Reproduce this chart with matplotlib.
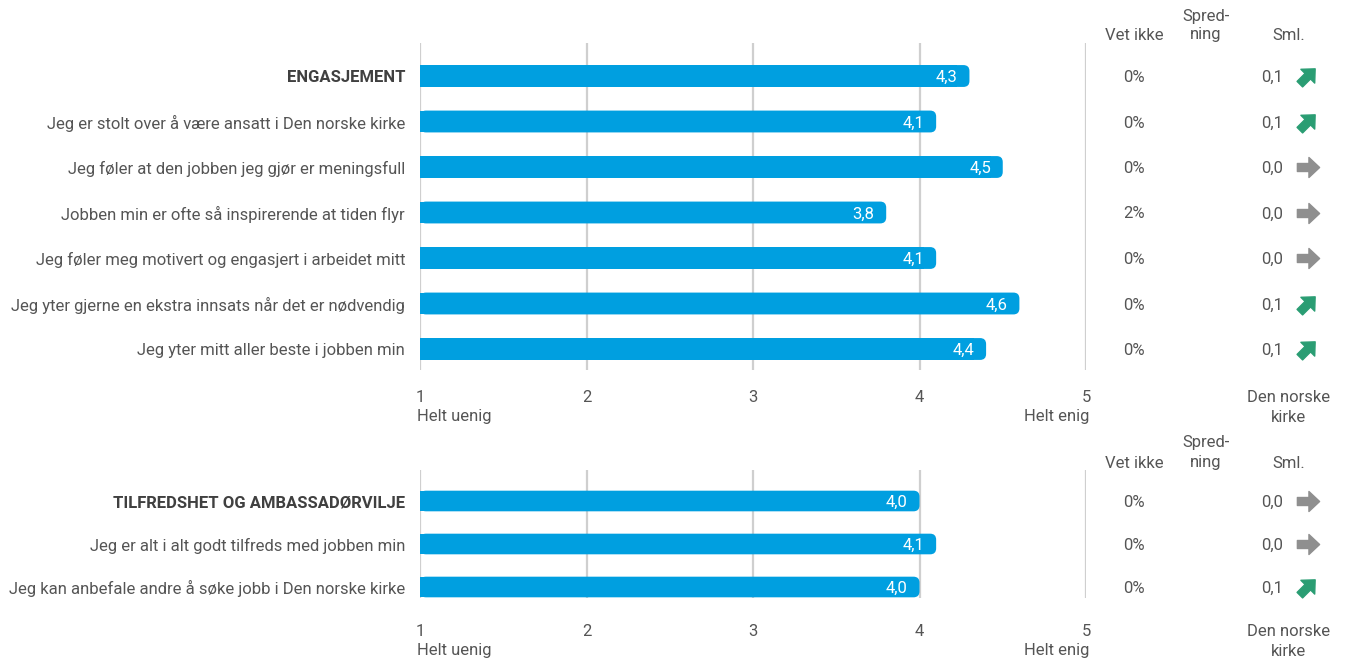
import matplotlib.pyplot as plt
import matplotlib.transforms as mtransforms
from matplotlib.patches import FancyBboxPatch
from matplotlib.path import Path

plt.rcParams['font.family'] = ['Roboto', 'DejaVu Sans']

# --- DATA ---
top_labels = [
    "ENGASJEMENT",
    "Jeg er stolt over å være ansatt i Den norske kirke",
    "Jeg føler at den jobben jeg gjør er meningsfull",
    "Jobben min er ofte så inspirerende at tiden flyr",
    "Jeg føler meg motivert og engasjert i arbeidet mitt",
    "Jeg yter gjerne en ekstra innsats når det er nødvendig",
    "Jeg yter mitt aller beste i jobben min",
]
top_values = [4.3, 4.1, 4.5, 3.8, 4.1, 4.6, 4.4]
top_vet_ikke = [0, 0, 0, 2, 0, 0, 0]
top_sml = [0.1, 0.1, 0.0, 0.0, 0.0, 0.1, 0.1]

bottom_labels = [
    "TILFREDSHET OG AMBASSADØRVILJE",
    "Jeg er alt i alt godt tilfreds med jobben min",
    "Jeg kan anbefale andre å søke jobb i Den norske kirke",
]
bottom_values = [4.0, 4.1, 4.0]
bottom_vet_ikke = [0, 0, 0]
bottom_sml = [0.0, 0.0, 0.1]

ticks = [1, 2, 3, 4, 5]

# --- STYLE ---
W, H = 1348, 663
BAR_COLOR = '#009fe0'
GRID_COLOR = '#cfcfcf'
TEXT_COLOR = '#555555'
HEAD_COLOR = '#404040'
UP_COLOR = '#2a9d73'
FLAT_COLOR = '#8f8f8f'
FS = 12

fig = plt.figure(figsize=(W / 100, H / 100), dpi=100)


def fx(px):
    return px / W


def fy(py):
    return 1 - py / H


# arrow marker shapes
right_arrow = Path([(-0.5, -0.18), (0.02, -0.18), (0.02, -0.45), (0.5, 0.0),
                    (0.02, 0.45), (0.02, 0.18), (-0.5, 0.18), (-0.5, -0.18)],
                   closed=True)
up_arrow = mtransforms.Affine2D().rotate_deg(45).transform_path(right_arrow)


def fmt(v):
    return f"{v:.1f}".replace('.', ',')


def draw_panel(top_px, bottom_px, first_row_px, row_step, labels, values,
               vet_ikke, sml):
    n = len(labels)
    ax = fig.add_axes([fx(420), fy(bottom_px), fx(1086) - fx(420),
                       (bottom_px - top_px) / H])
    y_top = -(first_row_px - top_px) / row_step
    y_bot = (n - 1) + (bottom_px - (first_row_px + (n - 1) * row_step)) / row_step
    ax.set_xlim(1, 5)
    ax.set_ylim(y_bot, y_top)
    ax.axis('off')

    for t in ticks:
        ax.axvline(t, color=GRID_COLOR, lw=1.6, zorder=0)

    px_per_x = 666 / 4
    aspect = px_per_x / row_step
    r = 6 / px_per_x
    bh = 0.48
    for i, v in enumerate(values):
        ax.barh(i, v - 1 - 2 * r, left=1, height=bh, color=BAR_COLOR,
                zorder=2, lw=0)
        ax.add_patch(FancyBboxPatch((1, i - bh / 2), v - 1, bh,
                                    boxstyle=f"round,pad=0,rounding_size={r}",
                                    mutation_aspect=aspect, fc=BAR_COLOR,
                                    ec='none', zorder=2))
        ax.text(v - 0.07, i, fmt(v), color='white', ha='right',
                va='center_baseline', fontsize=FS, zorder=3)

    blend = mtransforms.blended_transform_factory(fig.transFigure, ax.transData)
    for i, lab in enumerate(labels):
        bold = i == 0
        ax.text(fx(405), i, lab, transform=blend, ha='right',
                va='center_baseline', fontsize=FS,
                fontweight='bold' if bold else 'normal',
                color=HEAD_COLOR if bold else TEXT_COLOR)
        ax.text(fx(1134), i, f"{vet_ikke[i]}%", transform=blend, ha='center',
                va='center_baseline', fontsize=FS, color=TEXT_COLOR)
        ax.text(fx(1283), i, fmt(sml[i]), transform=blend, ha='right',
                va='center_baseline', fontsize=FS, color=TEXT_COLOR)
        if sml[i] > 0:
            ax.plot([fx(1307)], [i], marker=up_arrow, markersize=15,
                    color=UP_COLOR, transform=blend, clip_on=False,
                    linestyle='none')
        else:
            ax.plot([fx(1308)], [i], marker=right_arrow, markersize=16,
                    color=FLAT_COLOR, transform=blend, clip_on=False,
                    linestyle='none')
    return ax


def draw_headers(y1, y2):
    fig.text(fx(1134), fy(y2), "Vet ikke", ha='center', va='center',
             fontsize=FS, color=TEXT_COLOR)
    fig.text(fx(1206), fy(y1), "Spred-", ha='center', va='center',
             fontsize=FS, color=TEXT_COLOR)
    fig.text(fx(1206), fy(y2), "ning", ha='center', va='center',
             fontsize=FS, color=TEXT_COLOR)
    fig.text(fx(1289), fy(y2), "Sml.", ha='center', va='center',
             fontsize=FS, color=TEXT_COLOR)


def draw_ticks(ax, y1, y2):
    for t in ticks:
        xp = 420 + (t - 1) * 666 / 4
        fig.text(fx(xp), fy(y1), str(t), ha='center', va='center',
                 fontsize=FS, color=TEXT_COLOR)
    fig.text(fx(417), fy(y2), "Helt uenig", ha='left', va='center',
             fontsize=FS, color=TEXT_COLOR)
    fig.text(fx(1089), fy(y2), "Helt enig", ha='right', va='center',
             fontsize=FS, color=TEXT_COLOR)
    fig.text(fx(1289), fy(y1), "Den norske", ha='center', va='center',
             fontsize=FS, color=TEXT_COLOR)
    fig.text(fx(1289), fy(y2), "kirke", ha='center', va='center',
             fontsize=FS, color=TEXT_COLOR)


# --- TOP PANEL ---
draw_headers(16, 35)
ax1 = draw_panel(43, 370, 76, 45.5, top_labels, top_values, top_vet_ikke,
                 top_sml)
draw_ticks(ax1, 398, 417)

# --- BOTTOM PANEL ---
draw_headers(443, 463)
ax2 = draw_panel(470, 598, 501, 43, bottom_labels, bottom_values,
                 bottom_vet_ikke, bottom_sml)
draw_ticks(ax2, 632, 651)

fig.savefig('out.png', dpi=100)
